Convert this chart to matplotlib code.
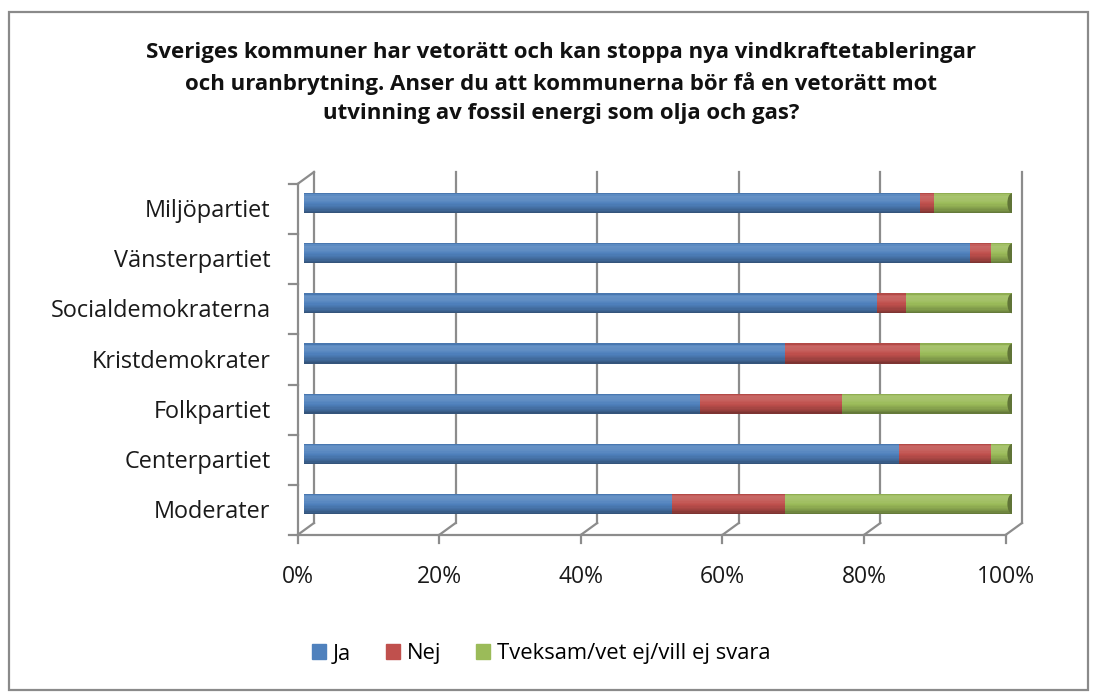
#!/usr/bin/env python3
# -*- coding: utf-8 -*-
"""
Stacked 3D-style horizontal bars: kommunalt veto mot fossil energi, per parti
"""
import numpy as np
import matplotlib
matplotlib.use('Agg')
import matplotlib.pyplot as plt
from matplotlib.patches import Ellipse, Rectangle
import matplotlib.transforms as mtransforms

plt.rcParams['font.family'] = ['Open Sans', 'DejaVu Sans']

title = ("Sveriges kommuner har vetorätt och kan stoppa nya vindkraftetableringar\n"
         "och uranbrytning. Anser du att kommunerna bör få en vetorätt mot\n"
         "utvinning av fossil energi som olja och gas?")

partier = ['Moderater', 'Centerpartiet', 'Folkpartiet', 'Kristdemokrater',
           'Socialdemokraterna', 'Vänsterpartiet', 'Miljöpartiet']
ja = [52, 84, 56, 68, 81, 94, 87]
nej = [16, 13, 20, 19, 4, 3, 2]
tveksam = [32, 3, 24, 13, 15, 3, 11]

serier = ['Ja', 'Nej', 'Tveksam/vet ej/vill ej svara']
colors = ['#4f81bd', '#c0504d', '#9bbb59']
xticks = [0, 20, 40, 60, 80, 100]

W, H = 1096, 693
fig = plt.figure(figsize=(W / 100, H / 100), dpi=100)

# outer chart border
fig.patches.append(Rectangle((9 / W, 3 / H), 1079 / W, 678 / H, transform=fig.transFigure,
                             fill=False, edgecolor='#8a8a8a', lw=1.6))

# axes = plane of the bars (pixel placement taken from reference)
ax = fig.add_axes([304 / W, (H - 529) / H, 708 / W, 351 / H])
ax.set_xlim(0, 100)
ax.set_ylim(-0.5, 6.5)
ax.axis('off')


def shade(c, f):
    c = np.array(matplotlib.colors.to_rgb(c))
    if f >= 1:
        return tuple(c + (1 - c) * (f - 1))
    return tuple(c * f)


gray = '#8c8c8c'
txtcol = '#1a1a1a'
front = mtransforms.offset_copy(ax.transData, fig=fig, x=-6.5, y=-6, units='dots')
back = mtransforms.offset_copy(ax.transData, fig=fig, x=10, y=6, units='dots')
inv = ax.transData.inverted()
yb, yt = -0.5, 6.5

# back wall gridlines + floor diagonals + x ticks
for t in xticks:
    ax.plot([t, t], [yb, yt], color=gray, lw=1.6, transform=back, clip_on=False, zorder=1)
    q0 = inv.transform(front.transform((t, yb)))
    q1 = inv.transform(back.transform((t, yb)))
    ax.plot([q0[0], q1[0]], [q0[1], q1[1]], color=gray, lw=1.6, clip_on=False, zorder=1)
    ax.plot([q0[0], q0[0]], [q0[1], q0[1] - 8 / 50.1], color=gray, lw=1.6, clip_on=False, zorder=1)
    ax.text(q0[0], q0[1] - 42 / 50.1, f'{t}%', ha='center', va='center', fontsize=16.5,
            color=txtcol, clip_on=False)

# top side-wall edge
q0 = inv.transform(front.transform((0, yt)))
q1 = inv.transform(back.transform((0, yt)))
ax.plot([q0[0], q1[0]], [q0[1], q1[1]], color=gray, lw=1.6, clip_on=False, zorder=1)

# front axes lines
ax.plot([0, 100], [yb, yb], color=gray, lw=1.6, transform=front, clip_on=False, zorder=1)
ax.plot([0, 0], [yb, yt], color=gray, lw=1.6, transform=front, clip_on=False, zorder=1)
for k in range(len(partier) + 1):
    q = inv.transform(front.transform((0, yb + k)))
    ax.plot([q[0] - 9 / 7.08, q[0]], [q[1], q[1]], color=gray, lw=1.6, clip_on=False, zorder=1)
    if k < len(partier):
        ax.text(q[0] - 27 / 7.08, yb + k + 0.5 - 8 / 50.1, partier[k], ha='right', va='center',
                fontsize=16.9, color=txtcol, clip_on=False)

# cylinder bars: stacked thin strips for shading
bh = 0.4
prof_t = [0.0, 0.12, 0.35, 0.65, 0.85, 1.0]
prof_f = [0.85, 1.14, 1.09, 0.92, 0.78, 0.62]
nstrip = 16
y = np.arange(len(partier))
lefts = np.zeros(len(partier))
for vals, col in zip([ja, nej, tveksam], colors):
    vals = np.array(vals, dtype=float)
    for s in range(nstrip):
        tt = (s + 0.5) / nstrip
        f = np.interp(tt, prof_t, prof_f)
        yy = y + bh / 2 - (s + 0.5) * bh / nstrip
        ax.barh(yy, vals, left=lefts, height=bh / nstrip * 1.05, color=shade(col, f),
                lw=0, zorder=3)
    lefts = lefts + vals

# rounded left ends and darker right caps
for i in range(len(partier)):
    ax.add_patch(Ellipse((0, y[i]), 1.0, bh * 0.98, facecolor=shade(colors[0], 0.95),
                         lw=0, zorder=2))
    ax.add_patch(Ellipse((lefts[i], y[i]), 1.3, bh * 0.98, facecolor=shade(colors[2], 0.62),
                         lw=0, zorder=4))

fig.text(561 / W, 1 - 83 / H, title, ha='center', va='center', fontsize=16,
         fontweight='bold', linespacing=1.53, color='#111111')

# legend
hs = [Rectangle((0, 0), 1, 1, color=c) for c in colors]
fig.legend(hs, serier, loc='center', bbox_to_anchor=(541 / W, 1 - 654 / H), ncol=3,
           frameon=False, fontsize=15.8, handlelength=0.65, handleheight=0.65,
           handletextpad=0.3, columnspacing=1.6)

fig.savefig('out.png', dpi=100)
